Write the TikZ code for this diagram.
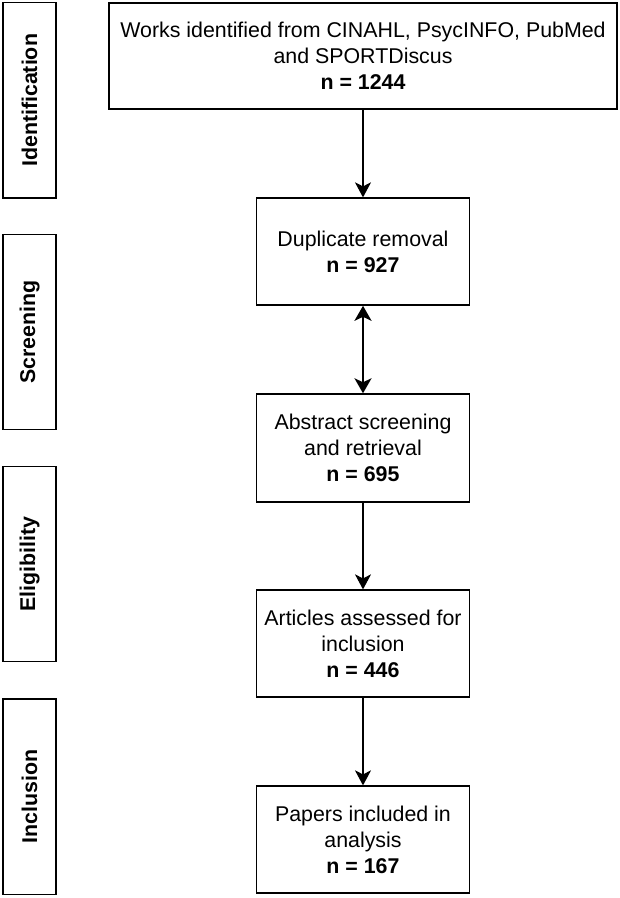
\documentclass[tikz,border=0pt]{standalone}
\usepackage{fontspec}
\setmainfont{Liberation Sans}
\usetikzlibrary{arrows.meta,positioning}

\begin{document}
\begin{tikzpicture}[
    phase/.style={draw,line width=1pt,rotate=90,minimum width=4.88cm,
      minimum height=1.325cm,inner sep=0pt,
      font=\fontsize{15.2}{18.5}\selectfont\bfseries},
    record/.style={draw,line width=1pt,minimum width=5.325cm,
      minimum height=2.675cm,align=center,inner sep=2pt,
      font=\fontsize{15.2}{18.5}\selectfont},
    flow/.style={-{Stealth[length=3.75mm,width=4mm,inset=1mm]},line width=0.95pt},
    twoway/.style={{Stealth[length=3.75mm,width=4.25mm,inset=1mm]}-{Stealth[length=3.75mm,width=4.25mm,inset=1mm]},
      line width=1.45pt}
  ]
    \useasboundingbox (0,0) rectangle (15.5,22.45);
    % stages on the left
    \node[phase] (ident) at (0.74,19.94) {Identification};
    \node[phase] (screen) at (0.74,14.15) {Screening};
    \node[phase] (elig) at (0.74,8.35) {Eligibility};
    \node[phase] (incl) at (0.74,2.53) {Inclusion};
    % records
    \node[record,minimum width=12.7cm,minimum height=2.65cm] (works) at (9.075,21.05)
      {Works identified from CINAHL, PsycINFO, PubMed\\
       and SPORTDiscus\\
       \textbf{n = 1244}};
    \node[record] (dupl) at (9.075,16.16)
      {Duplicate removal\\
       \textbf{n = 927}};
    \node[record,minimum height=2.7cm] (abstr) at (9.075,11.25)
      {Abstract screening\\
       and retrieval\\
       \textbf{n = 695}};
    \node[record] (assess) at (9.075,6.36)
      {Articles assessed for\\
       inclusion\\
       \textbf{n = 446}};
    \node[record] (papers) at (9.075,1.46)
      {Papers included in\\
       analysis\\
       \textbf{n = 167}};
    \draw[flow] (works) -- (dupl);
    \draw[twoway] (dupl) -- (abstr);
    \draw[flow,line width=0.75pt] (abstr) -- (assess);
    \draw[flow] (assess) -- (papers);
  \end{tikzpicture}
\end{document}
